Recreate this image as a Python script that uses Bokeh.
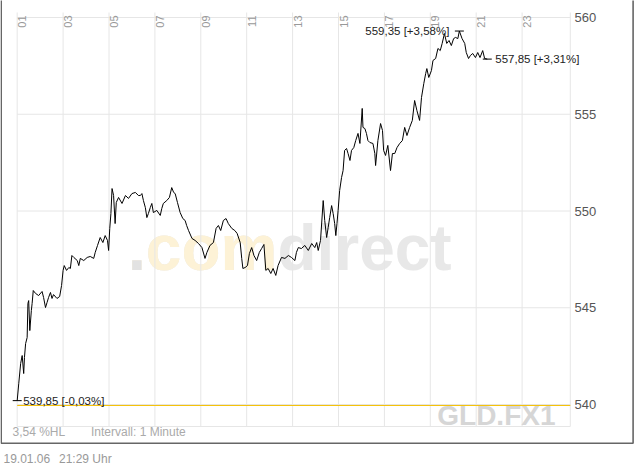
import math
from bokeh.plotting import figure
from bokeh.models import Range1d
from bokeh.core.properties import value
from bokeh.embed import file_html
from bokeh.resources import INLINE

# ---------------- data ----------------
minutes_after_0100 = [
    0, 4, 9, 13, 17, 19, 22, 26, 28, 30, 33, 37, 39, 42, 48, 56, 65, 69, 74, 78,
    82, 87, 91, 95, 104, 111, 116, 120, 123, 129, 135, 139, 143, 148, 157, 161, 165, 174, 183, 191,
    200, 204, 210, 217, 224, 230, 236, 239, 242, 245, 248, 252, 256, 259, 265, 274, 283, 291, 300, 309,
    317,
    322, 326, 330, 335, 339, 343, 348, 352, 356, 365, 374, 378, 382, 391, 398, 404, 409, 413, 419, 426,
    433, 439, 443, 448, 457, 465, 474, 483, 491, 496, 504, 513, 520, 526, 532, 539, 546, 552, 561, 569,
    575, 583, 587, 590, 596, 602, 607, 613,
    619, 626, 633, 639, 645, 650, 656, 663, 669, 676, 682, 691, 700, 709, 717, 726, 730, 735, 743, 752,
    761, 770, 778, 783, 787, 793, 800, 804, 809, 813, 817, 822, 826, 830, 833, 836, 839, 843, 848, 852,
    856, 861, 865, 870, 874, 880, 885, 891, 896,
    902, 904, 909, 913, 917, 922, 930, 935, 937, 943, 950, 955, 958, 963, 969, 976, 981, 987, 993, 1000,
    1007, 1013, 1019, 1026, 1033, 1039, 1045, 1052, 1057, 1063, 1068, 1071, 1076, 1083, 1087, 1094, 1100, 1106, 1111, 1117,
    1123, 1129, 1135, 1141, 1146, 1152, 1156, 1163, 1170, 1174, 1180, 1185, 1191, 1198, 1204, 1210, 1217, 1222, 1229,
]
prices = [
    540.20, 541.07, 542.12, 542.53, 541.60, 542.43, 543.15, 543.46, 545.22, 545.37,
    543.82, 544.86, 545.22, 545.89, 545.74, 545.63, 545.84, 545.53, 545.01, 545.27,
    545.53, 545.79, 545.48, 545.68, 545.48, 545.58, 546.15, 546.93, 547.18, 546.93,
    547.08, 547.03, 547.70, 547.60, 547.44, 547.18, 547.55, 547.44, 547.60, 547.65,
    547.55, 547.86, 548.22, 548.63, 548.37, 548.73, 548.48, 547.96, 549.10, 549.87,
    551.16, 550.80, 549.35, 550.44, 550.70, 550.39, 550.80, 550.65, 550.90, 550.96,
    550.80,
    550.80, 550.90, 550.54, 550.18, 549.66, 549.87, 550.18, 550.39, 549.92, 550.03,
    549.77, 550.13, 550.39, 550.54, 550.70, 551.21, 550.96, 550.90, 550.44, 549.92,
    549.61, 549.51, 549.25, 548.99, 548.58, 548.48, 548.32, 548.11, 547.55, 547.86,
    548.22, 548.37, 549.10, 549.25, 548.99, 549.51, 549.61, 549.35, 549.10, 548.99,
    548.84, 548.37, 547.55, 547.03, 547.08, 547.18, 547.80, 548.11,
    547.70, 547.44, 547.86, 548.06, 548.27, 546.93, 547.03, 546.77, 547.03, 546.67,
    547.18, 547.60, 547.55, 547.70, 547.60, 547.44, 547.86, 548.11, 548.06, 548.22,
    547.96, 548.32, 548.11, 548.37, 547.96, 548.48, 550.54, 549.51, 548.63, 549.15,
    549.66, 550.28, 549.87, 549.35, 548.73, 549.35, 550.03, 551.06, 551.73, 552.09,
    553.13, 553.23, 552.97, 552.61, 553.13, 553.28, 553.64, 554.01, 553.49,
    555.30, 554.32, 554.26, 554.01, 553.64, 553.54, 553.49, 552.97, 552.35, 553.64,
    554.52, 554.16, 553.13, 552.87, 553.39, 552.09, 552.97, 552.97, 553.28, 553.49,
    553.64, 554.32, 553.90, 554.32, 554.68, 555.71, 555.19, 554.68, 555.87, 556.59,
    557.11, 557.36, 556.90, 557.26, 557.78, 557.88, 558.40, 558.29, 558.66, 559.17,
    558.66, 558.81, 558.55, 558.91, 558.97, 558.91, 559.30, 558.91, 558.66, 558.19,
    557.88, 558.04, 558.14, 557.93, 558.19, 557.93, 558.29, 557.88, 557.85,
]
hour_labels = ["01", "03", "05", "07", "09", "11", "13", "15", "17", "19", "21", "23"]
price_ticks = [540, 545, 550, 555, 560]
prev_close = 539.95
low_text = "539,85 [-0,03%]"
high_text = "559,35 [+3,58%]"
last_text = "557,85 [+3,31%]"
range_text = "3,54 %HL"
interval_text = "Intervall: 1 Minute"
stamp_date = "19.01.06"
stamp_time = "21:29 Uhr"
symbol_text = "GLD.FX1"
brand_full = ".comdirect"
brand_yellow = ".com"
brand_dot = "."

# ---------------- geometry (pixels of the page) ----------------
W, H = 634, 466
PX_H1, PX_PER_H = 16.7, 22.95      # x pixel of hour 01, pixels per hour
PY_560, PX_PER_U = 17.0, 19.35     # y pixel of price 560, pixels per price unit
H_END = 25.1                       # right edge of the chart area (hours)


def X(px):  # page pixel -> hour
    return 1 + (px - PX_H1) / PX_PER_H


def Y(py):  # page pixel -> price
    return 560 - (py - PY_560) / PX_PER_U


P_TOP, P_BOT = Y(12), Y(426)       # chart-area top / bottom in price units

hours = [1 + m / 60 for m in minutes_after_0100]

p = figure(width=W, height=H, x_range=Range1d(X(0), X(W)), y_range=Range1d(Y(H), Y(0)),
           x_axis_type=None, y_axis_type=None,
           output_backend="svg", toolbar_location=None,
           min_border=0, min_border_left=0, min_border_right=0, min_border_top=0, min_border_bottom=0,
           background_fill_color="white", border_fill_color="white",
           outline_line_color=None)
p.xgrid.visible = False
p.ygrid.visible = False

FONT = "Liberation Sans"
GRID = "#e6e6e6"

# watermark
wm_x, wm_y = X(127.5), Y(247)
for txt, col in [(brand_full, "#e8e8e8"), (brand_yellow, "#fdf2d6"), (brand_dot, "#e2e2e2")]:
    p.text(x=[wm_x], y=[wm_y], text=[txt], text_font=value(FONT),
           text_font_style="bold", text_font_size="64px", text_color=col,
           text_baseline="alphabetic", text_align="left")

# grid
tick_hours = [int(l) for l in hour_labels]
vx = tick_hours + [H_END]
p.segment(x0=vx, x1=vx, y0=[P_BOT] * len(vx), y1=[P_TOP] * len(vx), line_color=GRID, line_width=1)
p.segment(x0=[1] * len(price_ticks), x1=[H_END] * len(price_ticks), y0=price_ticks, y1=price_ticks,
          line_color=GRID, line_width=1)
p.segment(x0=[1], x1=[H_END], y0=[P_BOT], y1=[P_BOT], line_color=GRID, line_width=1)

# previous close
p.segment(x0=[1], x1=[H_END], y0=[prev_close], y1=[prev_close], line_color="#f5c000", line_width=1)

# hour labels (rotated, inside the chart area at the top)
p.text(x=tick_hours, y=[Y(15)] * len(tick_hours), text=hour_labels, angle=math.pi / 2,
       text_align="right", text_baseline="top", text_font=value(FONT),
       text_font_size="11px", text_color="#999999", x_offset=1)

# price labels at the right
p.text(x=[X(574)] * len(price_ticks), y=price_ticks, text=[str(t) for t in price_ticks],
       text_align="left", text_baseline="middle", text_font=value(FONT),
       text_font_size="13px", text_color="#555555")

# price line
p.line(hours, prices, line_color="black", line_width=1)

hi = prices.index(max(prices))
p.scatter(x=[hours[0], hours[hi], hours[-1]], y=[prices[0], prices[hi], prices[-1]],
          marker="dash", size=9, line_color="black", line_width=1)

mk = dict(text_font=value(FONT), text_font_size="11.5px", text_color="#222222", text_baseline="middle")
p.text(x=[hours[0]], y=[prices[0]], text=[low_text], x_offset=6, text_align="left", **mk)
p.text(x=[hours[hi]], y=[prices[hi]], text=[high_text], x_offset=-10, text_align="right", **mk)
p.text(x=[hours[-1]], y=[prices[-1]], text=[last_text], x_offset=8, text_align="left", **mk)

# symbol
p.text(x=[X(555)], y=[Y(415)], text=[symbol_text], text_align="right", text_baseline="alphabetic",
       text_font=value(FONT), text_font_style="bold", text_font_size="28px", text_color="#d6d6d6")

# footer texts
ft = dict(text_font=value(FONT), text_font_size="12px", text_baseline="middle", text_align="left")
p.text(x=[X(12)], y=[Y(431)], text=[range_text], text_color="#aaaaaa", **ft)
p.text(x=[X(90.5)], y=[Y(431)], text=[interval_text], text_color="#aaaaaa", **ft)
p.text(x=[X(3)], y=[Y(458)], text=[stamp_date], text_color="#999999", **ft)
p.text(x=[X(58.5)], y=[Y(458)], text=[stamp_time], text_color="#999999", **ft)

# outer box (left, bottom, right)
p.line(x=[X(0.7), X(0.7), X(632.6), X(632.6)], y=[Y(-5), Y(442.7), Y(442.7), Y(-5)],
       line_color="#666666", line_width=1.6)

open("out.html", "w").write(file_html(p, INLINE))
